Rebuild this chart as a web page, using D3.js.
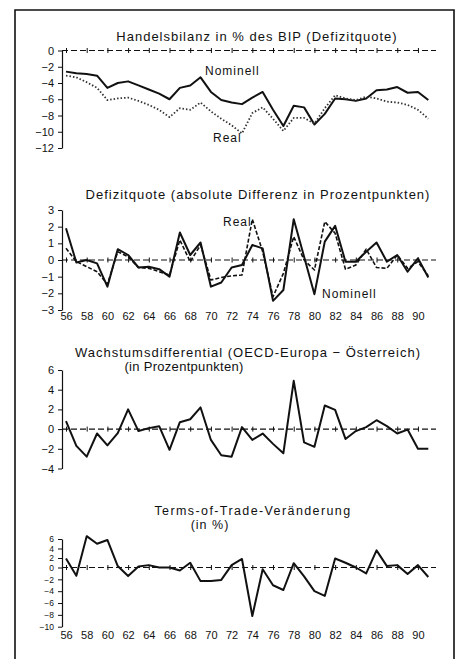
<!DOCTYPE html>
<html><head><meta charset="utf-8">
<script src="https://cdn.jsdelivr.net/npm/d3@7"></script>
<style>
html,body{margin:0;padding:0;background:#fff;}
svg{display:block;}
text{font-family:"Liberation Sans",Arial,sans-serif;fill:#111;}
</style></head><body>
<svg id="chart" width="461" height="659"></svg>
<script>
const years = [1956,1957,1958,1959,1960,1961,1962,1963,1964,1965,1966,1967,1968,1969,1970,1971,1972,1973,1974,1975,1976,1977,1978,1979,1980,1981,1982,1983,1984,1985,1986,1987,1988,1989,1990,1991];
const tickYears = [1956,1958,1960,1962,1964,1966,1968,1970,1972,1974,1976,1978,1980,1982,1984,1986,1988,1990];
const tickYearLabels = ["56","58","60","62","64","66","68","70","72","74","76","78","80","82","84","86","88","90"];

const handelsNominell = [-2.6,-2.8,-2.9,-3.1,-4.6,-4.0,-3.8,-4.3,-4.8,-5.3,-6.0,-4.6,-4.3,-3.3,-5.1,-6.1,-6.4,-6.6,-5.8,-5.1,-7.3,-9.3,-6.8,-7.0,-9.1,-7.8,-5.9,-6.0,-6.2,-5.9,-4.9,-4.8,-4.5,-5.2,-5.1,-6.1];
const handelsReal = [-3.1,-3.3,-3.9,-4.6,-6.1,-5.9,-5.8,-6.2,-6.7,-7.3,-8.2,-7.1,-7.3,-6.4,-7.5,-8.4,-9.2,-10.2,-7.7,-7.0,-8.4,-9.9,-8.3,-8.3,-9.0,-7.1,-5.5,-5.9,-6.1,-5.7,-5.9,-6.3,-6.4,-6.7,-7.3,-8.4];

const diffNominell = [1.9,-0.15,0.0,-0.2,-1.6,0.65,0.3,-0.45,-0.4,-0.55,-1.0,1.65,0.3,1.05,-1.6,-1.35,-0.45,-0.3,0.9,0.7,-2.45,-1.8,2.45,0.2,-2.05,1.1,2.05,-0.1,-0.1,0.5,1.05,-0.1,0.3,-0.7,0.1,-1.05];
const diffReal = [0.7,-0.1,-0.4,-0.7,-1.45,0.5,0.2,-0.45,-0.5,-0.7,-0.9,1.2,-0.1,0.9,-1.2,-1.05,-0.95,-0.9,2.45,0.5,-2.2,-0.8,1.4,0.0,-0.6,2.3,1.6,-0.55,-0.3,0.65,-0.45,-0.5,0.3,-0.5,-0.1,-0.95];

const wachstum = [0.8,-1.7,-2.8,-0.45,-1.65,-0.4,2.0,-0.2,0.1,0.3,-2.1,0.7,1.0,2.2,-1.1,-2.65,-2.8,0.2,-1.1,-0.45,-1.5,-2.45,4.9,-1.35,-1.8,2.4,1.95,-1.0,-0.2,0.2,0.9,0.3,-0.45,-0.05,-2.0,-2.0];

const termsOfTrade = [1.9,-1.4,6.6,5.0,5.8,0.3,-1.45,0.2,0.5,0.0,0.0,-0.5,1.0,-2.3,-2.3,-2.1,0.5,1.8,-8.2,-0.3,-3.0,-3.8,0.9,-1.5,-4.0,-4.8,1.9,1.0,0.0,-1.0,3.6,0.3,0.5,-1.1,0.5,-1.6];

const ticks1 = [0,-2,-4,-6,-8,-10,-12];
const ticks2 = [3,2,1,0,-1,-2,-3];
const ticks3 = [6,4,2,0,-2,-4];
const ticks4 = [6,4,2,0,-2,-4,-6,-8,-10];

const svg = d3.select("#chart");
const ink = "#111";

// frame
svg.append("path").attr("d","M15,661 L15,10 L454,10 L454,661")
  .attr("fill","none").attr("stroke",ink).attr("stroke-width",1.6);

const x = d3.scaleLinear().domain([1956,1991]).range([66,428.3]);
const axisX = 62, zeroEnd = 436;
const fmt = d => d < 0 ? "\u2212" + Math.abs(d) : String(d);

function panel(cfg){
  const g = svg.append("g");
  const y = cfg.y;
  const ax = g.append("g").attr("transform",`translate(${axisX},0)`)
    .call(d3.axisLeft(y).tickValues(cfg.ticks).tickSizeInner(4).tickSizeOuter(0).tickPadding(4).tickFormat(fmt));
  ax.select(".domain").attr("stroke",ink).attr("stroke-width",1.2);
  ax.selectAll(".tick line").attr("stroke",ink).attr("stroke-width",1);
  ax.selectAll(".tick text").attr("font-size",cfg.tickSize||11).attr("font-family","Liberation Sans, Arial, sans-serif").attr("fill",ink);
  g.append("line").attr("x1",axisX).attr("x2",zeroEnd).attr("y1",y(0)).attr("y2",y(0))
    .attr("stroke",ink).attr("stroke-width",1.2).attr("stroke-dasharray","6,3");
  const zt = g.append("g").attr("transform",`translate(0,${y(0)-2.5})`)
    .call(d3.axisBottom(x).tickValues(tickYears).tickSizeInner(5).tickSizeOuter(0).tickFormat(""));
  zt.select(".domain").remove();
  zt.selectAll(".tick line").attr("stroke",ink).attr("stroke-width",1);
  if(cfg.xLabelY){
    const xl = g.append("g").attr("transform",`translate(0,${cfg.xLabelY})`)
      .call(d3.axisBottom(x).tickValues(tickYears).tickSize(0).tickPadding(0).tickFormat((d,i)=>tickYearLabels[i]));
    xl.select(".domain").remove();
    xl.selectAll(".tick text").attr("font-size",11).attr("font-family","Liberation Sans, Arial, sans-serif").attr("fill",ink);
  }
  cfg.series.forEach(s=>{
    const line = d3.line().x((d,i)=>x(years[i])).y(d=>y(d));
    g.append("path").datum(s.values).attr("d",line).attr("fill","none")
      .attr("stroke",s.color||ink).attr("stroke-width",s.width).attr("stroke-linejoin","round")
      .attr("stroke-dasharray",s.dash || null);
  });
  cfg.texts.forEach(t=>{
    g.append("text").attr("x",t.x).attr("y",t.y).attr("text-anchor",t.anchor||"middle")
      .attr("font-size",t.size||13).attr("letter-spacing",t.ls==null?1:t.ls).text(t.text);
  });
}

panel({
  y: d3.scaleLinear().domain([-12,0]).range([148,50.5]),
  ticks: ticks1,
  series:[{values:handelsNominell,width:2},{values:handelsReal,width:1.8,dash:"1.5,2",color:"#333"}],
  texts:[
    {text:"Handelsbilanz in % des BIP (Defizitquote)",x:257,y:41},
    {text:"Nominell",x:205,y:75,anchor:"start",size:12},
    {text:"Real",x:213,y:142,anchor:"start",size:12}
  ]
});

panel({
  y: d3.scaleLinear().domain([-3,3]).range([310,210]),
  ticks: ticks2,
  xLabelY: 312,
  series:[{values:diffNominell,width:2},{values:diffReal,width:1.6,dash:"4,2"}],
  texts:[
    {text:"Defizitquote (absolute Differenz in Prozentpunkten)",x:258,y:199},
    {text:"Real",x:223,y:226,anchor:"start",size:12},
    {text:"Nominell",x:322,y:298,anchor:"start",size:12}
  ]
});

panel({
  y: d3.scaleLinear().domain([-4,6]).range([468.5,370]),
  ticks: ticks3,
  series:[{values:wachstum,width:2}],
  texts:[
    {text:"Wachstumsdifferential (OECD-Europa \u2212 \u00D6sterreich)",x:248,y:357},
    {text:"(in Prozentpunkten)",x:184,y:371,ls:0.3}
  ]
});

panel({
  y: d3.scaleLinear().domain([-10,0,6]).range([626.7,567.5,539]),
  ticks: ticks4,
  tickSize: 8.5,
  xLabelY: 631,
  series:[{values:termsOfTrade,width:2}],
  texts:[
    {text:"Terms-of-Trade-Ver\u00E4nderung",x:253,y:514.5,ls:1.4,size:12.5},
    {text:"(in %)",x:210,y:529,size:12.5}
  ]
});
</script>
</body></html>
